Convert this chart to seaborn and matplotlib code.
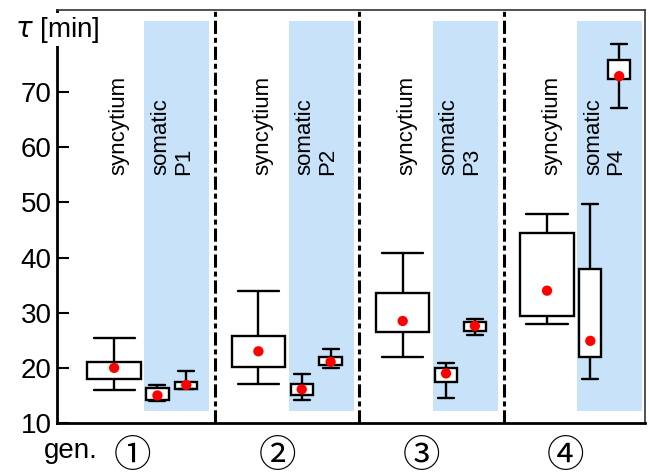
import matplotlib
matplotlib.use("Agg")
import matplotlib.pyplot as plt
import matplotlib.transforms as mtransforms
import seaborn as sns

# ---------------- data ----------------
generations = [1, 2, 3, 4]
circled = ["\u2460", "\u2461", "\u2462", "\u2463"]
somatic_labels = ["P1", "P2", "P3", "P4"]
y_ticks = [10, 20, 30, 40, 50, 60, 70]

# syncytium boxes (whisker low, Q1, Q3, whisker high, mean)
syn_lo = [16.0, 17.0, 22.0, 27.9]
syn_q1 = [18.0, 20.1, 26.5, 29.4]
syn_q3 = [21.1, 25.8, 33.5, 44.5]
syn_hi = [25.5, 34.0, 40.9, 47.9]
syn_mean = [20.0, 23.0, 28.5, 34.0]

# first somatic box in each generation
s1_lo = [13.9, 14.2, 14.5, 17.9]
s1_q1 = [14.1, 15.1, 17.5, 22.0]
s1_q3 = [16.3, 17.0, 20.0, 37.9]
s1_hi = [16.9, 18.8, 20.9, 49.8]
s1_mean = [15.0, 16.1, 19.0, 24.9]

# second somatic box in each generation
s2_lo = [16.1, 19.9, 25.9, 67.2]
s2_q1 = [16.2, 20.6, 26.7, 72.3]
s2_q3 = [17.5, 21.9, 28.4, 75.8]
s2_hi = [19.4, 23.4, 28.8, 78.8]
s2_mean = [16.9, 21.1, 27.6, 72.9]

# ---------------- style ----------------
sns.set_style("ticks")
plt.rcParams["font.family"] = ["Liberation Sans", "DejaVu Sans"]
plt.rcParams["mathtext.fontset"] = "dejavusans"
plt.rcParams["lines.scale_dashes"] = False
for key in ["text.color", "axes.labelcolor", "xtick.color", "ytick.color"]:
    plt.rcParams[key] = "black"

fig = plt.figure(figsize=(6.49, 4.74), dpi=100)
ax = fig.add_axes([57 / 649, 1 - 423 / 474, 588 / 649, 413 / 474])

OFF_S1, OFF_S2 = 0.30, 0.50
W_SYN, C_SYN = 0.37, 0.285
W_SOM, C_SOM = 0.155, 0.11
LW = 1.7

# blue shaded somatic regions and dashed separators
for i in range(len(generations)):
    ax.axvspan(i + 0.21, i + 0.66, ymin=0.029, ymax=0.973,
               color="#c8e2fa", lw=0, zorder=0)
    if i < len(generations) - 1:
        ax.axvline(i + 0.70, color="black", lw=2.2,
                   linestyle=(0, (9.5, 2.8, 3.6, 2.8)), zorder=1)


def draw_box(pos, lo, q1, mid, q3, hi, w, cw):
    sns.boxplot(x=[pos] * 5, y=[lo, q1, mid, q3, hi], native_scale=True,
                orient="x", width=w, whis=(0, 100), color="white",
                saturation=1, linecolor="black", linewidth=LW, fill=True,
                showfliers=False, capwidths=cw,
                medianprops={"visible": False}, ax=ax, zorder=3)


xs, ms = [], []
for i in range(len(generations)):
    draw_box(i, syn_lo[i], syn_q1[i], syn_mean[i], syn_q3[i], syn_hi[i], W_SYN, C_SYN)
    draw_box(i + OFF_S1, s1_lo[i], s1_q1[i], s1_mean[i], s1_q3[i], s1_hi[i], W_SOM, C_SOM)
    draw_box(i + OFF_S2, s2_lo[i], s2_q1[i], s2_mean[i], s2_q3[i], s2_hi[i], W_SOM, C_SOM)
    xs += [i, i + OFF_S1, i + OFF_S2]
    ms += [syn_mean[i], s1_mean[i], s2_mean[i]]

sns.scatterplot(x=xs, y=ms, color="red", s=55, edgecolor="none",
                zorder=5, ax=ax, legend=False)

# vertical category labels
for i in range(len(generations)):
    ax.text(i + 0.03, 55, "syncytium", rotation=90, ha="center", va="bottom",
            fontsize=16, zorder=4)
    ax.text(i + 0.40, 55, "somatic\n" + somatic_labels[i], rotation=90,
            ha="center", va="bottom", multialignment="left", fontsize=16,
            linespacing=1.1, zorder=4)

# axes limits, ticks and spines
ax.set_xlim(-0.396, 3.679)
ax.set_ylim(10, 84.9)
ax.set_yticks(y_ticks)
ax.set_xticks([])
ax.set_xlabel("")
ax.set_ylabel("")
ax.tick_params(axis="y", direction="in", length=8.5, width=1.5,
               labelsize=20, pad=4, colors="black")
for side in ["left", "bottom"]:
    ax.spines[side].set_linewidth(2.0)
    ax.spines[side].set_color("black")
for side in ["top", "right"]:
    ax.spines[side].set_linewidth(1.2)
    ax.spines[side].set_color("#333333")

# y-axis title on top of the spine
ax.text(0.0, 0.952, r"$\tau$ [min]", transform=ax.transAxes, ha="center",
        va="center", fontsize=20, zorder=10, clip_on=False,
        bbox=dict(facecolor="white", edgecolor="none", pad=1.0))

# generation labels below
trans = mtransforms.blended_transform_factory(ax.transData, ax.transAxes)
ax.text(-0.022, -0.0847, "gen.", transform=ax.transAxes, ha="left",
        va="baseline", fontsize=20)
for i in range(len(generations)):
    ax.text(i + 0.13, -0.08, circled[i], transform=trans, ha="center",
            va="center", fontsize=27,
            family=["Noto Sans CJK JP", "DejaVu Sans"])

fig.savefig("out.png", dpi=100)
